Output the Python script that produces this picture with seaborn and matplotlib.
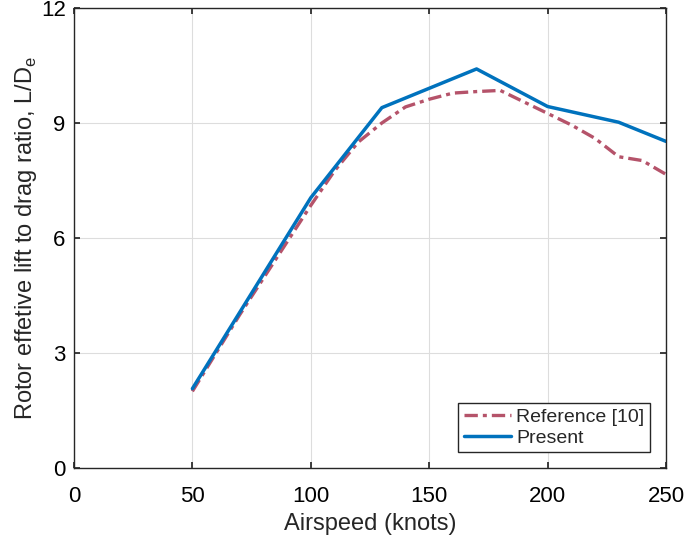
"""Rotor effective lift-to-drag ratio vs airspeed: reference data vs present model."""
import matplotlib
matplotlib.use("Agg")
import matplotlib.pyplot as plt
import pandas as pd
import seaborn as sns

# -- Data ----------------------------------------------------------------------
ref_speed = [50, 60, 70, 80, 90, 100, 110, 120, 130, 140, 150, 160, 170, 180,
             190, 200, 210, 220, 230, 240, 250]
ref_ld = [2.0, 3.0, 4.0, 4.95, 5.9, 6.85, 7.75, 8.5, 9.0, 9.42, 9.62, 9.78,
          9.82, 9.85, 9.55, 9.25, 8.95, 8.6, 8.12, 8.02, 7.66]

present_speed = [50, 100, 130, 170, 200, 230, 250]
present_ld = [2.07, 7.05, 9.4, 10.41, 9.43, 9.02, 8.52]

x_ticks = [0, 50, 100, 150, 200, 250]
y_ticks = [0, 3, 6, 9, 12]

REF_COLOR = "#B5536A"
PRESENT_COLOR = "#0072BD"

sns.set_theme(style="whitegrid")
plt.rcParams["font.family"] = ["Liberation Sans", "DejaVu Sans"]
plt.rcParams["mathtext.fontset"] = "custom"
plt.rcParams["mathtext.rm"] = "Liberation Sans"

ref_df = pd.DataFrame({"speed": ref_speed, "ld": ref_ld})
present_df = pd.DataFrame({"speed": present_speed, "ld": present_ld})

fig = plt.figure(figsize=(6.85, 5.38), dpi=100)
ax = fig.add_axes([74 / 685, 70 / 538, (666 - 74) / 685, (468 - 8) / 538])

sns.lineplot(data=ref_df, x="speed", y="ld", ax=ax, color=REF_COLOR,
             linewidth=2.4, label="Reference [10]")
ax.lines[-1].set_dashes([4, 1.5, 1.2, 1.5])
sns.lineplot(data=present_df, x="speed", y="ld", ax=ax, color=PRESENT_COLOR,
             linewidth=2.5, label="Present")

ax.set_xlim(0, 250)
ax.set_ylim(0, 12)
ax.set_xticks(x_ticks)
ax.set_yticks(y_ticks)
ax.set_facecolor("white")
ax.grid(True, color="#DDDDDD", linewidth=0.8)
for spine in ax.spines.values():
    spine.set_visible(True)
    spine.set_color("#262626")
    spine.set_linewidth(1.0)
ax.tick_params(axis="both", which="both", direction="in", length=4,
               top=True, right=True, bottom=True, left=True,
               labelsize=16, colors="#262626", labelcolor="black")
ax.tick_params(axis="x", pad=13)
ax.tick_params(axis="y", pad=6)

ax.set_xlabel("Airspeed (knots)", fontsize=17, labelpad=4)
ax.set_ylabel(r"Rotor effetive lift to drag ratio, L/D$_\mathrm{e}$", fontsize=17,
              labelpad=1)

leg = ax.legend(loc="lower right", fontsize=14, frameon=True, fancybox=False,
                framealpha=1, edgecolor="#262626", handlelength=2.4,
                borderpad=0.3, labelspacing=0.15, handletextpad=0.3,
                borderaxespad=0.8)
leg.get_frame().set_linewidth(1.0)

fig.savefig("out.png", dpi=100)
plt.close(fig)
